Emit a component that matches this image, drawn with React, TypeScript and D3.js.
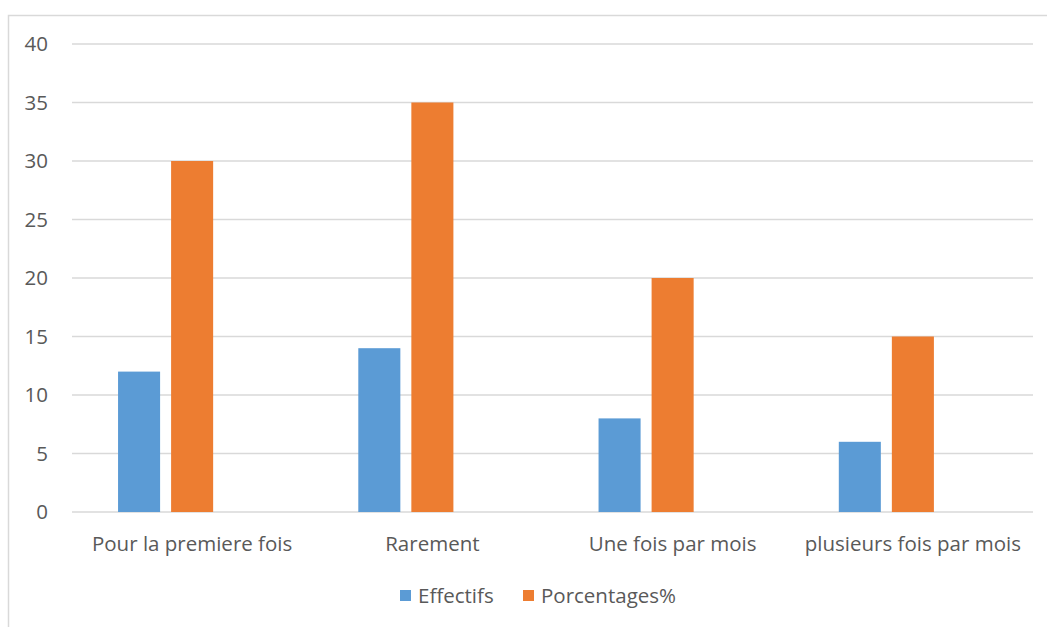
import React from "react";
import * as d3 from "d3";

const categories = ["Pour la premiere fois", "Rarement", "Une fois par mois", "plusieurs fois par mois"];
const effectifs = [12, 14, 8, 6];
const pourcentages = [30, 35, 20, 15];
const seriesNames = ["Effectifs", "Porcentages%"];
const seriesColors = ["#5B9BD5", "#ED7D31"];
const yTicks = [0, 5, 10, 15, 20, 25, 30, 35, 40];

const W = 1047;
const H = 627;
const plot = { left: 72, right: 1033, top: 44, bottom: 512 };
const FONT = "'Open Sans', Lato, sans-serif";
const TEXT = "#595959";
const FS = 20.5;

export default function App() {
  const x = d3.scaleBand<string>().domain(categories).range([plot.left, plot.right]);
  // Each category reserves three bar slots; the third slot stays empty.
  const slots = ["s0", "s1", "s2"];
  const inner = d3
    .scaleBand<string>()
    .domain(slots)
    .range([0, x.bandwidth()])
    .paddingInner(0.2075)
    .paddingOuter(0.868);
  const y = d3.scaleLinear().domain([0, 40]).range([plot.bottom, plot.top]);
  const series = [effectifs, pourcentages];

  return (
    <svg
      width={W}
      height={H}
      style={{ position: "absolute", left: 0, top: 0, background: "#fff" }}
      fontFamily={FONT}
    >
      <rect x={8.5} y={15.5} width={W} height={H} fill="#fff" stroke="#d9d9d9" strokeWidth={1.5} />
      {yTicks.map((t) => (
        <g key={t}>
          <line x1={plot.left} x2={plot.right} y1={y(t)} y2={y(t)} stroke="#d9d9d9" strokeWidth={1.3} />
          <text x={48} y={y(t)} dy="0.35em" textAnchor="end" fontSize={FS} fill={TEXT}>
            {t}
          </text>
        </g>
      ))}
      {series.map((vals, si) =>
        vals.map((v, ci) => (
          <rect
            key={`${si}-${ci}`}
            x={x(categories[ci])! + inner(slots[si])!}
            y={y(v)}
            width={inner.bandwidth()}
            height={y(0) - y(v)}
            fill={seriesColors[si]}
          />
        ))
      )}
      {categories.map((c) => (
        <text
          key={c}
          x={x(c)! + x.bandwidth() / 2}
          y={544}
          dy="0.35em"
          textAnchor="middle"
          fontSize={FS}
          fill={TEXT}
        >
          {c}
        </text>
      ))}
      {seriesNames.map((n, i) => {
        const lx = [400, 523][i];
        return (
          <g key={n}>
            <rect x={lx} y={590} width={11} height={11} fill={seriesColors[i]} />
            <text x={lx + 18} y={596} dy="0.35em" fontSize={FS} fill={TEXT}>
              {n}
            </text>
          </g>
        );
      })}
    </svg>
  );
}
